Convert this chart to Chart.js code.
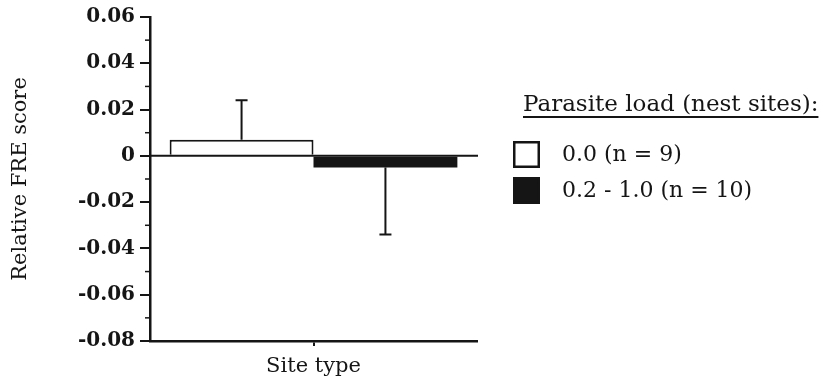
<!DOCTYPE html>
<html>
<head>
<meta charset="utf-8">
<style>
  body { margin: 0; background: #fff; }
  canvas { display: block; }
</style>
</head>
<body>
<canvas id="myChart" width="823" height="384"></canvas>
<script src="https://cdn.jsdelivr.net/npm/chart.js@4.4.1/dist/chart.umd.min.js"></script>
<script>
    // data
    const categories = ['Site type'];
    const seriesLabels = ['0.0 (n = 9)', '0.2 - 1.0 (n = 10)'];
    const lowLoad = [0.007];
    const highLoad = [-0.005];
    // one-sided error bars (pointing away from zero)
    const lowLoadErr = [0.017];
    const highLoadErr = [0.029];
    const legendTitle = 'Parasite load (nest sites):';

    const serif = '"DejaVu Serif", serif';
    const ink = '#151515';

    // zero line, error bars and minor ticks
    const extras = {
      id: 'extras',
      afterDatasetsDraw: (chart) => {
        const {ctx, chartArea} = chart;
        const y = chart.scales.y;
        ctx.save();
        ctx.strokeStyle = ink;
        ctx.lineWidth = 2;
        // zero line
        const y0 = y.getPixelForValue(0);
        ctx.beginPath();
        ctx.moveTo(chartArea.left, y0);
        ctx.lineTo(chartArea.right + 1, y0);
        ctx.stroke();
        // error bars
        chart.data.datasets.forEach((ds, i) => {
          const meta = chart.getDatasetMeta(i);
          meta.data.forEach((bar, j) => {
            const v = ds.data[j];
            const e = ds.err[j];
            const tip = v >= 0 ? v + e : v - e;
            const yv = y.getPixelForValue(v);
            const yt = y.getPixelForValue(tip);
            ctx.beginPath();
            ctx.moveTo(bar.x, yv);
            ctx.lineTo(bar.x, yt);
            ctx.moveTo(bar.x - 6, yt);
            ctx.lineTo(bar.x + 6, yt);
            ctx.stroke();
          });
        });
        // minor ticks halfway between the major ones
        ctx.lineWidth = 1.5;
        const ticks = y.ticks;
        for (let k = 0; k < ticks.length - 1; k++) {
          const mid = (ticks[k].value + ticks[k + 1].value) / 2;
          const py = y.getPixelForValue(mid);
          ctx.beginPath();
          ctx.moveTo(chartArea.left - 5, py);
          ctx.lineTo(chartArea.left, py);
          ctx.stroke();
        }
        ctx.restore();
      }
    };

    // legend with underlined title, right of the plot
    const sideLegend = {
      id: 'sideLegend',
      afterDraw: (chart) => {
        const {ctx} = chart;
        ctx.save();
        ctx.fillStyle = ink;
        ctx.font = '23px ' + serif;
        ctx.textBaseline = 'alphabetic';
        ctx.textAlign = 'left';
        ctx.fillText(legendTitle, 523, 111);
        const w = ctx.measureText(legendTitle).width;
        ctx.fillRect(523, 116, w, 2);
        ctx.font = '22px ' + serif;
        ctx.textBaseline = 'middle';
        chart.data.datasets.forEach((ds, i) => {
          const top = 141 + i * 36;
          ctx.fillStyle = ds.backgroundColor;
          ctx.fillRect(513, top, 27, 27);
          ctx.strokeStyle = ink;
          ctx.lineWidth = 2.5;
          ctx.strokeRect(514.25, top + 1.25, 24.5, 24.5);
          ctx.fillStyle = ink;
          ctx.fillText(ds.label, 562, top + 14);
        });
        ctx.restore();
      }
    };

    const ctx = document.getElementById('myChart');

    new Chart(ctx, {
      type: 'bar',
      plugins: [extras, sideLegend],
      data: {
        labels: categories,
        datasets: [
          {
            label: seriesLabels[0],
            data: lowLoad,
            err: lowLoadErr,
            backgroundColor: '#ffffff',
            borderColor: ink,
            borderWidth: 2,
            categoryPercentage: 0.88,
            barPercentage: 1.0
          },
          {
            label: seriesLabels[1],
            data: highLoad,
            err: highLoadErr,
            backgroundColor: ink,
            borderColor: ink,
            borderWidth: 0,
            categoryPercentage: 0.88,
            barPercentage: 1.0
          }
        ]
      },
      options: {
        responsive: false,
        animation: false,
        layout: {
          padding: { left: 0, right: 346, top: 16, bottom: 0 }
        },
        plugins: {
          legend: { display: false },
          tooltip: { enabled: false }
        },
        scales: {
          x: {
            afterFit: (scale) => { scale.height = 43; },
            grid: { display: true, offset: false, drawOnChartArea: false, tickLength: 5, tickColor: ink, lineWidth: 2 },
            border: { display: true, color: ink, width: 2.5 },
            ticks: { color: ink, font: { family: serif, size: 21 }, padding: 8 }
          },
          y: {
            min: -0.08,
            max: 0.06,
            afterFit: (scale) => { scale.width = 150; },
            grid: { drawOnChartArea: false, tickLength: 10, tickColor: ink, lineWidth: 2 },
            border: { display: true, color: ink, width: 2.5 },
            ticks: {
              stepSize: 0.02,
              color: ink,
              padding: 5,
              font: { family: serif, size: 20, weight: 'bold' },
              callback: (v) => Math.abs(v) < 1e-9 ? '0' : v.toFixed(2)
            },
            title: {
              display: true,
              text: 'Relative FRE score',
              color: ink,
              font: { family: serif, size: 21 },
              padding: { top: 8, bottom: 4 }
            }
          }
        }
      }
    });
</script>
</body>
</html>
